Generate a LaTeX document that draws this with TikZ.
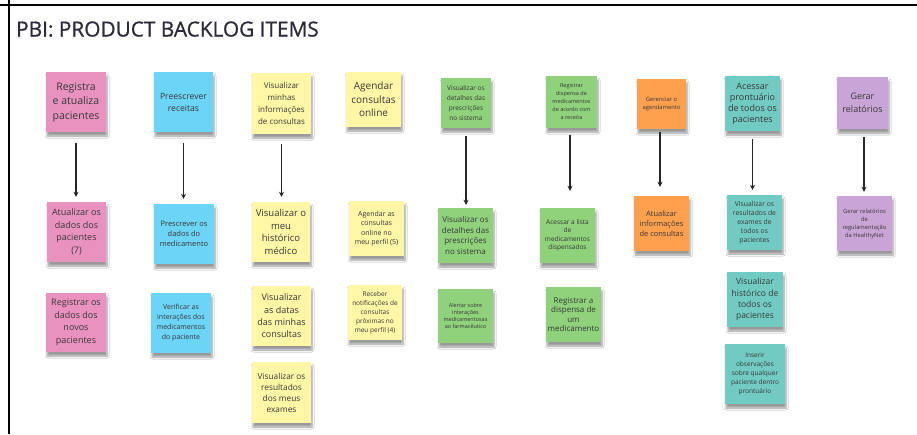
\documentclass[tikz,border=0pt]{standalone}
\usepackage{fontspec}
\setmainfont{Open Sans}
\newfontfamily\titlefont[FakeBold=0.8]{Open Sans}
\usetikzlibrary{arrows.meta,shadows.blur}
\definecolor{npink}{HTML}{E992C0}
\definecolor{nblue}{HTML}{6CD4F6}
\definecolor{nyellow}{HTML}{FFF6A6}
\definecolor{ngreen}{HTML}{8FD27B}
\definecolor{norange}{HTML}{FFA04E}
\definecolor{nteal}{HTML}{72CBC3}
\definecolor{npurple}{HTML}{C9A4D6}
\definecolor{ntext}{HTML}{383838}
\definecolor{ntitle}{HTML}{2B2B3A}
\newcommand{\fs}[2]{\fontsize{#1}{#2}\selectfont}
\tikzset{
  note/.style={inner sep=0pt, align=center, text=ntext,
    blur shadow={shadow xshift=1pt, shadow yshift=-4pt, shadow blur steps=6, shadow opacity=40, shadow blur radius=2pt}},
  arr/.style={line width=1.2pt, draw=black!85, -{Stealth[length=5pt,width=5pt]}},
  border/.style={line width=1.8pt, draw=black}
}
\begin{document}
\begin{tikzpicture}[x=1pt,y=-1pt]
\useasboundingbox (0,0) rectangle (917,434);
\fill[white] (0,0) rectangle (917,434);
\draw[border] (0,5) -- (917,5);
\draw[border] (9,0) -- (9,434);
\node[anchor=base west, text=ntitle, font=\titlefont\fs{20.8}{24}, inner sep=0pt] (title) at (16,36.5) {PBI: PRODUCT BACKLOG ITEMS};

% column 1
\node[note, fill=npink, minimum width=60pt, minimum height=60pt, font=\fs{10.5}{14.5}] (a1) at (76,102) {Registra\\e atualiza\\pacientes};
\node[note, fill=npink, minimum width=59pt, minimum height=60pt, font=\fs{9}{12.5}] (a2) at (76.5,232) {Atualizar os\\dados dos\\pacientes\\(7)};
\node[note, fill=npink, minimum width=60pt, minimum height=59pt, font=\fs{9}{12.5}] (a3) at (76,322.5) {Registrar os\\dados dos\\novos\\pacientes};

% column 2
\node[note, fill=nblue, minimum width=59pt, minimum height=60pt, font=\fs{8.6}{12}] (b1) at (183.5,102) {Preescrever\\receitas};
\node[note, fill=nblue, minimum width=60pt, minimum height=60pt, font=\fs{7.5}{10}] (b2) at (184,234) {Prescrever os\\dados do\\medicamento};
\node[note, fill=nblue, minimum width=60pt, minimum height=60pt, font=\fs{7}{10}] (b3) at (181,323) {Verificar as\\interações dos\\medicamentos\\do paciente};

% column 3
\node[note, fill=nyellow, minimum width=59pt, minimum height=61pt, font=\fs{8}{12}] (c1) at (281.5,103.5) {Visualizar\\minhas\\informações\\de consultas};
\node[note, fill=nyellow, minimum width=58pt, minimum height=60pt, font=\fs{9.5}{12.5}] (c2) at (281,232) {Visualizar o\\meu\\histórico\\médico};
\node[note, fill=nyellow, minimum width=59pt, minimum height=60pt, font=\fs{9}{12.4}] (c3) at (281.5,316) {Visualizar\\as datas\\das minhas\\consultas};
\node[note, fill=nyellow, minimum width=59pt, minimum height=61pt, font=\fs{8.3}{11}] (c4) at (281.5,392.5) {Visualizar os\\resultados\\dos meus\\exames};

% column 4
\node[note, fill=nyellow, minimum width=55pt, minimum height=55pt, font=\fs{10}{13.7}] (d1) at (373.5,99.5) {Agendar\\consultas\\online};
\node[note, fill=nyellow, minimum width=55pt, minimum height=55pt, font=\fs{7}{9.5}] (d2) at (376.5,228.5) {Agendar as\\consultas\\online no\\meu perfil (5)};
\node[note, fill=nyellow, minimum width=54pt, minimum height=55pt, font=\fs{6.5}{9}] (d3) at (375,312.5) {Receber\\notificações de\\consultas\\próximas no\\meu perfil (4)};

% column 5
\node[note, fill=ngreen, minimum width=50pt, minimum height=50pt, font=\fs{6.5}{9.8}] (e1) at (466,103) {Visualizar os\\detalhes das\\prescrições\\no sistema};
\node[note, fill=ngreen, minimum width=55pt, minimum height=55pt, font=\fs{8}{10.5}] (e2) at (465.5,235.5) {Visualizar os\\detalhes das\\prescrições\\no sistema};
\node[note, fill=ngreen, minimum width=55pt, minimum height=54pt, font=\fs{5.5}{7.2}] (e3) at (465.5,316) {Alertar sobre\\interações\\medicamentosas\\ao farmacêutico};

% column 6
\node[note, fill=ngreen, minimum width=51pt, minimum height=52pt, font=\fs{5.5}{8}] (f1) at (571.5,102) {Registrar\\dispensa de\\medicamentos\\de acordo com\\a receita};
\node[note, fill=ngreen, minimum width=55pt, minimum height=55pt, font=\fs{6.5}{8.5}] (f2) at (567.5,235.5) {Acessar a lista\\de\\medicamentos\\dispensados};
\node[note, fill=ngreen, minimum width=55pt, minimum height=55pt, font=\fs{8}{9.4}] (f3) at (573.5,314.5) {Registrar a\\dispensa de\\um\\medicamento};

% column 7
\node[note, fill=norange, minimum width=49pt, minimum height=50pt, font=\fs{5.8}{8.5}] (g1) at (661.5,104) {Gerenciar o\\agendamento};
\node[note, fill=norange, minimum width=55pt, minimum height=55pt, font=\fs{7.5}{10.3}] (g2) at (661.5,223.5) {Atualizar\\informações\\de consultas};

% column 8
\node[note, fill=nteal, minimum width=55pt, minimum height=55pt, font=\fs{9}{11}] (h1) at (752.5,103.5) {Acessar\\prontuário\\de todos os\\pacientes};
\node[note, fill=nteal, minimum width=55pt, minimum height=55pt, font=\fs{6.8}{9}] (h2) at (754.5,222.5) {Visualizar os\\resultados de\\exames de\\todos os\\pacientes};
\node[note, fill=nteal, minimum width=56pt, minimum height=55pt, font=\fs{8.5}{11.4}] (h3) at (755,299.5) {Visualizar\\histórico de\\todos os\\pacientes};
\node[note, fill=nteal, minimum width=60pt, minimum height=60pt, font=\fs{6.5}{9}] (h4) at (755,374) {Inserir\\observações\\sobre qualquer\\paciente dentro\\prontuário};

% column 9
\node[note, fill=npurple, minimum width=51pt, minimum height=52pt, font=\fs{9}{12.7}] (i1) at (862.5,103) {Gerar\\relatórios};
\node[note, fill=npurple, minimum width=55pt, minimum height=55pt, font=\fs{5.8}{8}] (i2) at (864.5,223.5) {Gerar relatórios\\de\\regulamentação\\da HealthyNet};

% arrows
\draw[arr, shorten <=11pt, shorten >=5pt] (a1.south) -- (a1.south |- a2.north);
\draw[arr, shorten <=11pt, shorten >=5pt] (b1.south) -- (b1.south |- b2.north);
\draw[arr, shorten <=10pt, shorten >=5pt] (c1.south) -- (c1.south |- c2.north);
\draw[arr, shorten <=8pt, shorten >=3pt] (e1.south) -- (e1.south |- e2.north);
\draw[arr, shorten <=7pt, shorten >=17pt] ([xshift=-1.5pt]f1.south) -- ([xshift=-1.5pt]f1.south |- f2.north);
\draw[arr, shorten <=3pt, shorten >=9pt] ([xshift=-1.5pt]g1.south) -- ([xshift=-1.5pt]g1.south |- g2.north);
\draw[arr, shorten <=8pt, shorten >=5pt] (h1.south) -- (h1.south |- h2.north);
\draw[arr, shorten <=8pt, shorten >=4pt] ([xshift=1.5pt]i1.south) -- ([xshift=1.5pt]i1.south |- i2.north);
\end{tikzpicture}
\end{document}
